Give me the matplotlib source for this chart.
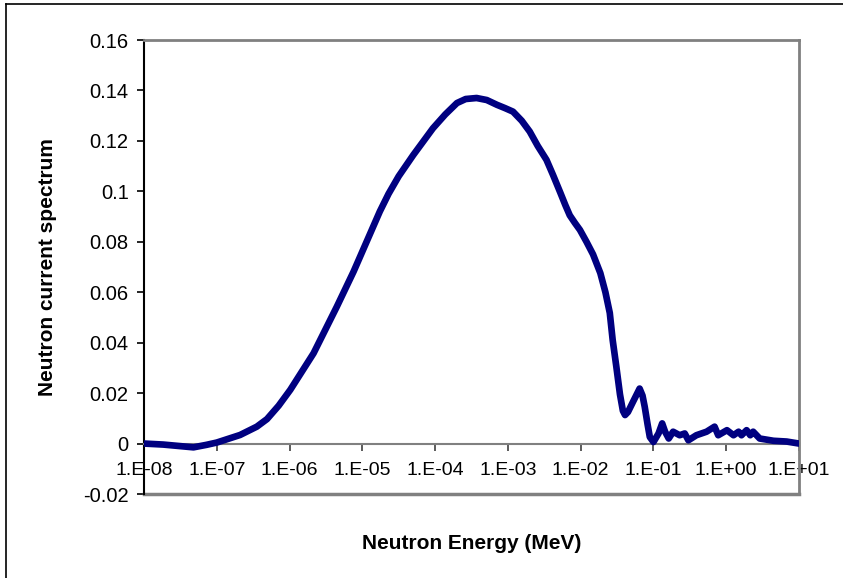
import numpy as np
import matplotlib.pyplot as plt
from matplotlib.lines import Line2D

plt.rcParams['font.family'] = ['Liberation Sans', 'DejaVu Sans']

# log10 of neutron energy (MeV) and the spectrum
log_energy = [-8.00, -7.735, -7.32, -7.14, -7.00, -6.68, -6.45, -6.31, -6.15, -5.99,
              -5.67, -5.35, -5.12, -4.99, -4.76, -4.64, -4.50, -4.30, -4.03, -3.86,
              -3.70, -3.58, -3.43, -3.29, -3.15, -3.04, -2.93, -2.81, -2.70, -2.59,
              -2.47, -2.38, -2.28, -2.21, -2.15, -2.08, -2.01, -1.92, -1.83, -1.73,
              -1.66, -1.60, -1.56, -1.51, -1.46, -1.42, -1.39, -1.35, -1.28, -1.19,
              -1.15, -1.12, -1.08, -1.05, -1.00, -0.93, -0.88, -0.84, -0.79, -0.73,
              -0.64, -0.57, -0.52, -0.41, -0.27, -0.16, -0.11, 0.01, 0.10, 0.17,
              0.21, 0.28, 0.33, 0.37, 0.46, 0.65, 0.83, 1.00]
spectrum = [0.0000, -0.0004, -0.0015, -0.0005, 0.0004, 0.0034, 0.0067, 0.0097, 0.0150, 0.0213,
            0.0358, 0.0543, 0.0682, 0.0768, 0.0920, 0.0990, 0.1060, 0.1144, 0.1250, 0.1305,
            0.1350, 0.1366, 0.1370, 0.1362, 0.1343, 0.1330, 0.1316, 0.1280, 0.1237, 0.1180,
            0.1125, 0.1065, 0.0995, 0.0945, 0.0905, 0.0875, 0.0847, 0.0800, 0.0750, 0.0676,
            0.0600, 0.0518, 0.0410, 0.0305, 0.0195, 0.0130, 0.0113, 0.0125, 0.0166, 0.0218,
            0.0190, 0.0146, 0.0075, 0.0026, 0.0006, 0.0040, 0.0080, 0.0047, 0.0020, 0.0047,
            0.0033, 0.0040, 0.0013, 0.0033, 0.0047, 0.0067, 0.0033, 0.0053, 0.0033, 0.0047,
            0.0033, 0.0053, 0.0033, 0.0047, 0.0020, 0.0011, 0.0008, 0.0000]

x_ticks = [1e-8, 1e-7, 1e-6, 1e-5, 1e-4, 1e-3, 1e-2, 1e-1, 1e0, 1e1]
x_labels = ['1.E-08', '1.E-07', '1.E-06', '1.E-05', '1.E-04', '1.E-03',
            '1.E-02', '1.E-01', '1.E+00', '1.E+01']
y_ticks = [-0.02, 0, 0.02, 0.04, 0.06, 0.08, 0.1, 0.12, 0.14, 0.16]
y_labels = ['-0.02', '0', '0.02', '0.04', '0.06', '0.08', '0.1', '0.12', '0.14', '0.16']

energy = 10 ** np.array(log_energy)

fig = plt.figure(figsize=(8.43, 5.78), dpi=100)
ax = fig.add_axes([144 / 843, 1 - 494 / 578, 655 / 843, 454 / 578])

ax.plot(energy, spectrum, color='#000080', lw=4.8, solid_joinstyle='round',
        solid_capstyle='round', zorder=3)

ax.set_xscale('log')
ax.set_xlim(1e-8, 1e1)
ax.set_ylim(-0.02, 0.16)
ax.minorticks_off()

# plot area border in grey, value axis in black, category axis crossing at 0
for side in ['top', 'right']:
    ax.spines[side].set_color('#808080')
    ax.spines[side].set_linewidth(2)
ax.spines['left'].set_color('black')
ax.spines['left'].set_linewidth(1.5)
ax.spines['bottom'].set_position(('data', 0))
ax.spines['bottom'].set_color('#808080')
ax.spines['bottom'].set_linewidth(1.5)
ax.plot([0, 1], [0, 0], transform=ax.transAxes, color='#808080', lw=2.5,
        clip_on=False, zorder=2)

ax.set_xticks(x_ticks)
ax.set_xticklabels(x_labels)
ax.set_yticks(y_ticks)
ax.set_yticklabels(y_labels)
ax.tick_params(axis='x', direction='out', length=5, width=1.2, color='#404040',
               pad=8, labelsize=14)
ax.tick_params(axis='y', direction='out', length=5, width=1.2, color='black',
               pad=6, labelsize=14.5)

ax.set_xlabel('Neutron Energy (MeV)', fontsize=15, fontweight='bold')
ax.xaxis.set_label_coords(0.5, -0.088)
ax.set_ylabel('Neutron current spectrum', fontsize=15, fontweight='bold')
ax.yaxis.set_label_coords((57 - 144) / 655, 0.5)

# outer chart border (only top and left edges show in the frame)
fig.add_artist(Line2D([6 / 843, 6 / 843], [0, 1 - 4 / 578], color='black', lw=1.2))
fig.add_artist(Line2D([6 / 843, 1], [1 - 4 / 578, 1 - 4 / 578], color='black', lw=1.2))

fig.savefig('out.png', dpi=100)
